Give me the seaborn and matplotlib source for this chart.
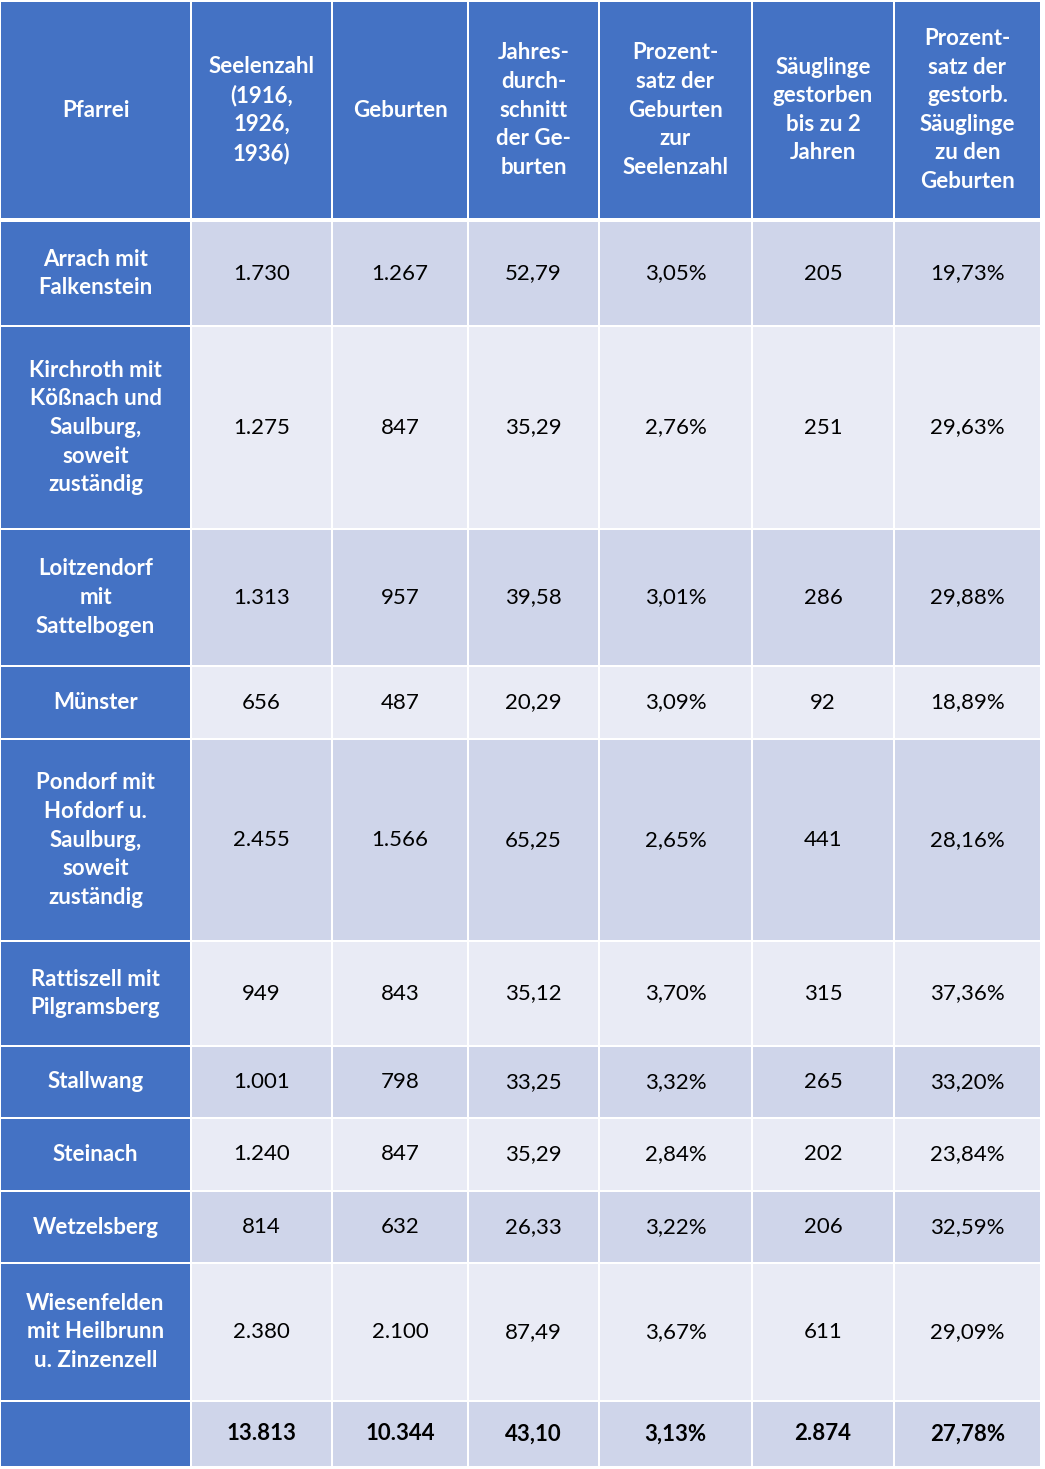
import matplotlib
matplotlib.use("Agg")
import matplotlib.pyplot as plt
import seaborn as sns

sns.set_theme(style="white")

headers = ["Pfarrei", "Seelenzahl\n(1916,\n1926,\n1936)", "Geburten", "Jahres-\ndurch-\nschnitt\nder Ge-\nburten",
           "Prozent-\nsatz der\nGeburten\nzur\nSeelenzahl", "Säuglinge\ngestorben\nbis zu 2\nJahren",
           "Prozent-\nsatz der\ngestorb.\nSäuglinge\nzu den\nGeburten"]
pfarrei = ["Arrach mit\nFalkenstein", "Kirchroth mit\nKößnach und\nSaulburg,\nsoweit\nzuständig",
           "Loitzendorf\nmit\nSattelbogen", "Münster", "Pondorf mit\nHofdorf u.\nSaulburg,\nsoweit\nzuständig",
           "Rattiszell mit\nPilgramsberg", "Stallwang", "Steinach", "Wetzelsberg",
           "Wiesenfelden\nmit Heilbrunn\nu. Zinzenzell", ""]
seelenzahl = ["1.730", "1.275", "1.313", "656", "2.455", "949", "1.001", "1.240", "814", "2.380", "13.813"]
geburten = ["1.267", "847", "957", "487", "1.566", "843", "798", "847", "632", "2.100", "10.344"]
jahresschnitt = ["52,79", "35,29", "39,58", "20,29", "65,25", "35,12", "33,25", "35,29", "26,33", "87,49", "43,10"]
prozent_geb = ["3,05%", "2,76%", "3,01%", "3,09%", "2,65%", "3,70%", "3,32%", "2,84%", "3,22%", "3,67%", "3,13%"]
saeuglinge = ["205", "251", "286", "92", "441", "315", "265", "202", "206", "611", "2.874"]
prozent_saeug = ["19,73%", "29,63%", "29,88%", "18,89%", "28,16%", "37,36%", "33,20%", "23,84%", "32,59%", "29,09%", "27,78%"]

cols = [pfarrei, seelenzahl, geburten, jahresschnitt, prozent_geb, saeuglinge, prozent_saeug]

xb = [0, 191, 332, 468, 599, 752, 894, 1041]
yb = [(2, 218), (222, 325), (327, 528), (530, 665), (667, 738), (740, 940), (942, 1045),
      (1047, 1117), (1119, 1190), (1192, 1262), (1264, 1400), (1402, 1466)]
BLUE = "#4472C4"; DARK = "#CFD5EA"; LIGHT = "#E9EBF5"

fig = plt.figure(figsize=(10.45, 14.69), dpi=100)
ax = fig.add_axes([0, 0, 1, 1])
ax.set_xlim(0, 1045); ax.set_ylim(1469, 0); ax.axis("off")
font = "Lato"

for r, (y0, y1) in enumerate(yb):
    for c in range(7):
        x0, x1 = xb[c] + 1, xb[c + 1] - 1
        if r == 0 or c == 0:
            col = BLUE
        else:
            col = DARK if (r % 2 == 1) else LIGHT
        ax.bar(x0, y1 - y0, width=x1 - x0, bottom=y0, align="edge", color=col, linewidth=0)
        if r == 0:
            txt = headers[c]; color = "white"; w = "bold"
        else:
            txt = cols[c][r - 1]
            color = "white" if c == 0 else "black"
            w = "bold" if (c == 0 or r == len(yb) - 1) else "normal"
        ax.text((x0 + x1) / 2, (y0 + y1) / 2, txt, ha="center", va="center", color=color,
                fontsize=16, fontweight=w, family=font, linespacing=1.45)

fig.savefig("out.png", dpi=100, facecolor="white")
